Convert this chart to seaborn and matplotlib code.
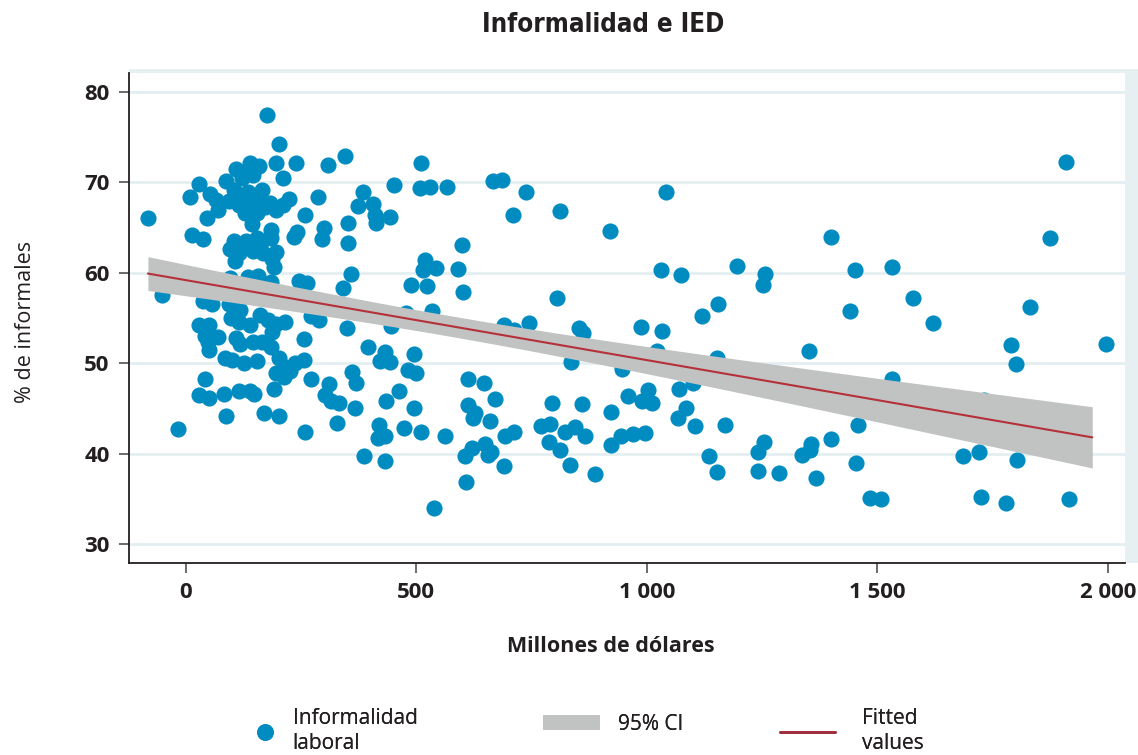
import numpy as np
import pandas as pd
import matplotlib
matplotlib.use("Agg")
import matplotlib.pyplot as plt
from matplotlib.lines import Line2D
from matplotlib.patches import Patch, Rectangle
from matplotlib import font_manager
import seaborn as sns

# IED (millones de dólares) y % de trabajadores informales
ied = [
    -82, -52, -17,
    10, 28, 14, 37, 46, 52, 66, 70, 88, 110, 140, 160, 122, 132, 146,
    105, 117, 136, 165, 161, 93, 115, 140, 166, 182, 128, 154, 173, 143,
    196, 212, 223, 186, 185, 154, 166, 131, 105, 96, 116, 145, 168, 196,
    107, 192, 188, 136, 157, 184, 95, 38, 94, 58, 117, 98, 162, 179, 196,
    215, 115, 140, 28, 50, 245, 264, 342, 358, 176, 203, 195, 210, 239,
    309, 346, 287, 259, 241, 234, 300, 295, 351, 353, 373, 384, 407, 413,
    411, 442, 452, 507, 530, 566, 511, 520, 514, 542, 488, 523, 600, 590,
    602,
    41, 28, 51, 82, 87, 115, 140, 148, 169, 203, 191, 258, 271, 257, 310,
    303, 314, 332, 328, 360, 370, 368, 396, 386, 432, 422, 444, 462, 435,
    495, 420, 433, 417, 473, 511, 562, 432, 538, 496, 482, 500, 187, 350,
    42, 48, 50, 70, 86, 100, 126, 155, 108, 118, 146, 166, 184, 202, 216,
    238, 256, 195, 213, 227, 271, 289, 446, 478, 534,
    667, 685, 737, 710, 812, 920, 1042, 1031, 1074, 1195, 1256, 1251, 805,
    1120, 1154, 691, 711, 744, 852, 861, 987, 1033, 1022, 1152, 836, 946,
    1101, 613, 646, 671, 613, 627, 624, 660, 795, 859, 922, 959, 989, 1002,
    1011, 1070, 1084, 1067, 1104, 1169, 692, 713, 771, 790, 788, 812, 822,
    844, 866, 833, 888, 922, 945, 969, 996, 606, 621, 650, 663, 656, 691,
    607, 1135, 1152, 1241, 1255, 1241, 1286,
    1908, 1400, 1875, 1452, 1532, 1578, 1440, 1620, 1831, 1352, 1790, 1800,
    1995, 1532, 1731, 1893, 1457, 1336, 1356, 1353, 1400, 1367, 1454, 1483,
    1508, 1686, 1720, 1802, 1725, 1778, 1915,
]
informalidad = [
    66.1, 57.5, 42.7,
    68.4, 69.8, 64.2, 63.7, 66.1, 68.7, 68.0, 67.0, 70.1, 71.5, 72.1, 71.8,
    70.5, 71.0, 70.8, 69.2, 68.5, 68.9, 69.2, 68.1, 67.9, 67.5, 67.7, 67.5,
    67.7, 66.6, 66.6, 67.3, 65.4, 66.9, 67.5, 68.2, 64.7, 63.9, 63.8, 63.5,
    63.5, 63.5, 62.6, 62.2, 62.4, 62.2, 62.3, 61.3, 60.6, 61.5, 59.5, 59.7,
    59.0, 59.4, 56.9, 56.5, 56.5, 55.9, 55.0, 55.3, 54.8, 54.3, 54.6, 54.6,
    54.2, 54.2, 54.2, 59.1, 58.9, 58.3, 59.9, 77.4, 74.2, 72.1, 70.5, 72.1,
    71.9, 72.9, 68.4, 66.4, 64.5, 64.0, 65.0, 63.7, 65.5, 63.3, 67.4, 68.9,
    67.6, 65.5, 66.4, 66.2, 69.7, 69.4, 69.5, 69.5, 72.1, 61.4, 60.3, 60.5,
    58.6, 58.5, 63.1, 60.4, 57.9,
    48.2, 46.5, 46.1, 46.6, 44.2, 46.9, 46.9, 46.6, 44.5, 44.2, 47.1, 42.4,
    48.2, 52.7, 47.7, 46.5, 45.8, 45.6, 43.4, 49.0, 47.8, 45.0, 51.8, 39.7,
    51.2, 50.2, 50.1, 46.9, 45.8, 45.1, 43.2, 42.0, 41.7, 42.8, 42.4, 41.9,
    39.2, 34.0, 51.0, 49.3, 48.9, 53.5, 53.9,
    53.0, 52.4, 51.5, 52.9, 50.6, 50.4, 50.0, 50.2, 52.8, 52.1, 52.3, 52.4,
    51.8, 50.6, 49.6, 50.0, 50.4, 48.9, 48.5, 49.1, 55.2, 54.8, 54.1, 55.6,
    55.8,
    70.1, 70.3, 68.9, 66.4, 66.8, 64.6, 68.9, 60.3, 59.8, 60.7, 59.9, 58.7,
    57.2, 55.2, 56.5, 54.2, 53.7, 54.4, 53.9, 53.3, 54.0, 53.6, 51.3, 50.6,
    50.1, 49.4, 47.8, 48.2, 47.8, 46.0, 45.4, 44.5, 43.9, 43.6, 45.6, 45.5,
    44.6, 46.4, 45.8, 47.0, 45.6, 47.1, 45.1, 43.9, 43.0, 43.2, 41.9, 42.4,
    43.1, 43.3, 41.3, 40.4, 42.4, 42.9, 41.9, 38.7, 37.7, 41.0, 41.9, 42.2,
    42.3, 39.7, 40.6, 41.1, 40.2, 39.9, 38.6, 36.9, 39.7, 38.0, 40.2, 41.3,
    38.1, 37.8,
    72.3, 64.0, 63.9, 60.3, 60.6, 57.2, 55.8, 54.5, 56.2, 51.3, 52.0, 49.9,
    52.1, 48.2, 45.9, 44.6, 43.2, 39.9, 41.1, 40.4, 41.6, 37.3, 39.0, 35.1,
    35.0, 39.7, 40.2, 39.3, 35.2, 34.5, 35.0,
]

fit_range = [-82, 1966]
y_ticks = [30, 40, 50, 60, 70, 80]
x_ticks = [0, 500, 1000, 1500, 2000]
x_tick_labels = ["0", "500", "1 000", "1 500", "2 000"]

df = pd.DataFrame({"ied": ied, "informalidad": informalidad})

BLUE = "#008cc0"
BAND = "#c1c2c2"
RED = "#b5313a"
INK = "#231f20"
GRID = "#e4eff2"

sns.set_theme(style="white")
plt.rcParams["font.family"] = ["Open Sans", "DejaVu Sans"]

# condensed bold face for the title when one is available
title_fp = font_manager.FontProperties(family="Roboto", weight="bold", size=17)
for fam in ("DejaVu Sans", "Liberation Sans Narrow"):
    fp = font_manager.FontProperties(family=fam, weight="bold", stretch="condensed")
    try:
        path = font_manager.findfont(fp, fallback_to_default=False)
    except ValueError:
        continue
    if "ondensed" in path or "Narrow" in path:
        title_fp = font_manager.FontProperties(fname=path, size=18.5)
        break

W, H = 1138, 755
fig = plt.figure(figsize=(W / 100, H / 100), dpi=100)
ax = fig.add_axes([129 / W, 1 - 563 / H, (1125 - 129) / W, (563 - 73) / H])

# light plot-region frame on the top and right sides
fig.add_artist(Rectangle((129 / W, 1 - 563 / H), (W - 129) / W, (563 - 69) / H,
                         transform=fig.transFigure, facecolor="#e6f0f3",
                         edgecolor="none", zorder=-1))

# linear fit with 95% confidence interval of the mean
xv = df["ied"].to_numpy(float)
yv = df["informalidad"].to_numpy(float)
slope, intercept = np.polyfit(xv, yv, 1)
n = len(xv)
resid = yv - (intercept + slope * xv)
s = np.sqrt(np.sum(resid ** 2) / (n - 2))
sxx = np.sum((xv - xv.mean()) ** 2)
xg = np.linspace(fit_range[0], fit_range[1], 200)
yg = intercept + slope * xg
half = 1.97 * s * np.sqrt(1 / n + (xg - xv.mean()) ** 2 / sxx)

sns.scatterplot(data=df, x="ied", y="informalidad", ax=ax, color=BLUE,
                s=135, linewidth=0, legend=False, zorder=2)
ax.fill_between(xg, yg - half, yg + half, color=BAND, linewidth=0, zorder=3)
ax.plot(xg, yg, color=RED, lw=1.5, zorder=4)

ax.set_xlim(-123, 2037)
ax.set_ylim(27.9, 82.1)
ax.set_yticks(y_ticks)
ax.set_xticks(x_ticks)
ax.set_xticklabels(x_tick_labels)
ax.yaxis.grid(True, color=GRID, linewidth=2)
ax.xaxis.grid(False)
ax.set_axisbelow(True)

for side in ("top", "right"):
    ax.spines[side].set_visible(False)
for side in ("left", "bottom"):
    ax.spines[side].set_color(INK)
    ax.spines[side].set_linewidth(1.3)

ax.tick_params(axis="both", direction="out", length=7, width=1.1,
               color="#444444", pad=7, labelsize=16, labelcolor=INK,
               left=True, bottom=True)
for lab in ax.get_xticklabels() + ax.get_yticklabels():
    lab.set_fontweight("bold")

ax.set_xlabel("Millones de dólares", fontsize=15.5, fontweight="bold", color=INK)
ax.xaxis.set_label_coords(0.484, -0.15)
ax.set_ylabel("% de informales", fontsize=15.5, color=INK)
ax.yaxis.set_label_coords(-0.093, 0.492)

fig.text(603 / W, 1 - 25 / H, "Informalidad e IED", ha="center", va="center",
         color=INK, fontproperties=title_fp)

# legend: three entries placed along the bottom
leg_common = dict(loc="center left", frameon=False, fontsize=15,
                  labelcolor=INK, borderpad=0, borderaxespad=0,
                  labelspacing=0.2)
legs = [
    (Line2D([], [], marker="o", ls="none", color=BLUE, markersize=11),
     "Informalidad\nlaboral", 250, 731, 1.4, 0.65),
    (Patch(facecolor=BAND, edgecolor="none"), "95% CI", 543, 724, 2.75, 0.85),
    (Line2D([], [], color="#a02f3c", lw=2), "Fitted\nvalues", 780, 731, 2.65, 1.3),
]
for handle, label, x0, yc, hl, tp in legs:
    lg = fig.legend([handle], [label], bbox_to_anchor=(x0 / W, 1 - yc / H),
                    handlelength=hl, handletextpad=tp, **leg_common)
    fig.add_artist(lg)

fig.savefig("out.png", dpi=100)
